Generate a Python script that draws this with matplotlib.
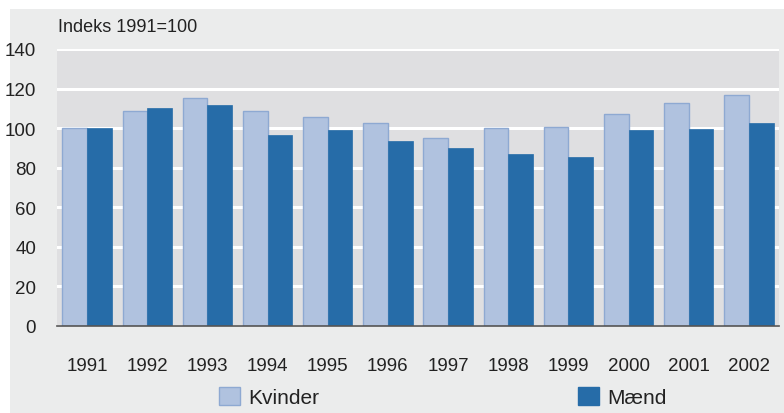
import numpy as np
import matplotlib.pyplot as plt
from matplotlib.patches import Rectangle, Patch
from matplotlib import font_manager

years = ["1991", "1992", "1993", "1994", "1995", "1996",
         "1997", "1998", "1999", "2000", "2001", "2002"]
kvinder = [100, 108.6, 115.2, 108.6, 105.5, 102.5, 95.0, 100.2, 100.5, 106.9, 112.5, 117.0]
maend = [100, 110.1, 111.6, 96.5, 99.0, 93.4, 89.9, 86.9, 85.2, 99.0, 99.8, 102.4]

names = {f.name for f in font_manager.fontManager.ttflist}
fam = "Liberation Sans Narrow" if "Liberation Sans Narrow" in names else "Liberation Sans"
plt.rcParams["font.family"] = [fam, "DejaVu Sans"]

light = "#b0c2df"
light_edge = "#8ea9d2"
dark = "#266ca8"
panel = "#ebecec"
plot_bg = "#dfdfe1"
text_col = "#222222"

fig = plt.figure(figsize=(7.84, 4.14), dpi=100, facecolor="white")
fig.patches.append(Rectangle((10 / 784, 0), 1 - 10 / 784, 1 - 10 / 414,
                             transform=fig.transFigure, facecolor=panel,
                             edgecolor="none", zorder=-10))

ax = fig.add_axes([57 / 784, 1 - 327 / 414, (779 - 57) / 784, (327 - 50) / 414])
ax.set_facecolor(plot_bg)

x = np.arange(len(years))
w = 0.41
ax.bar(x - w / 2, kvinder, w, color=light, edgecolor=light_edge, linewidth=1, zorder=3)
ax.bar(x + w / 2, maend, w, color=dark, edgecolor=dark, linewidth=0.5, zorder=3)

ax.set_xlim(-0.5, len(years) - 0.5)
ax.set_ylim(0, 140)
ax.set_yticks(range(0, 141, 20))
ax.grid(axis="y", color="white", linewidth=2.2, zorder=1)
ax.set_axisbelow(True)
ax.set_xticks(x)
ax.set_xticklabels(years)
ax.tick_params(axis="both", length=0, labelsize=13.5, colors=text_col)
ax.tick_params(axis="x", pad=22)
ax.tick_params(axis="y", pad=15)
for s in ["left", "right", "top"]:
    ax.spines[s].set_visible(False)
ax.spines["bottom"].set_color("#555555")
ax.spines["bottom"].set_linewidth(1.2)
ax.spines["bottom"].set_zorder(4)

fig.text(58 / 784, 1 - 27 / 414, "Indeks 1991=100", fontsize=13,
         color=text_col, va="center", ha="left")

handles = [Patch(facecolor=light, edgecolor=light_edge, label="Kvinder"),
           Patch(facecolor=dark, edgecolor=dark, label="Mænd")]
fig.legend(handles=handles, loc="center", bbox_to_anchor=(443 / 784, 1 - 398 / 414),
           ncol=2, frameon=False, fontsize=15, columnspacing=12.4,
           handlelength=1.0, handleheight=1.0, handletextpad=0.4,
           labelcolor=text_col)

fig.savefig("out.png", dpi=100, facecolor=fig.get_facecolor())
